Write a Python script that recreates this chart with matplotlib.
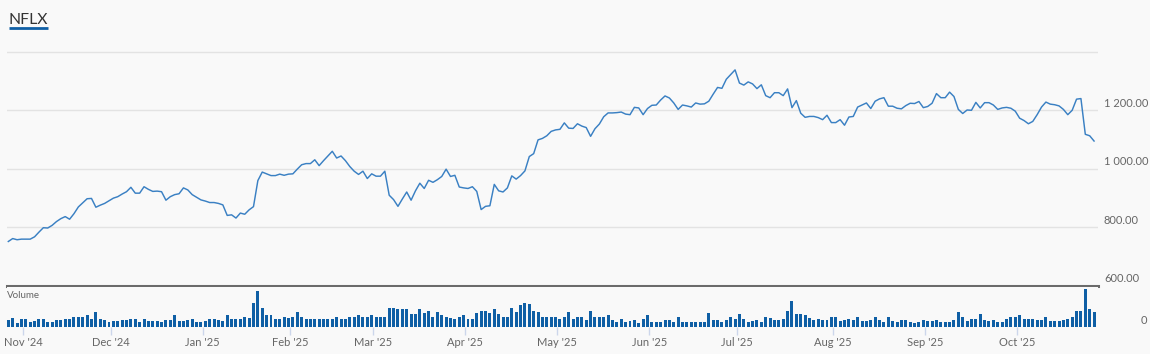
import matplotlib
matplotlib.use("Agg")
import matplotlib.pyplot as plt

plt.rcParams['font.family'] = ['Lato', 'DejaVu Sans']

ticker = "NFLX"

# closing price, one value per trading day (Oct 28 '24 .. Oct 24 '25)
price = [
    752, 762, 758, 760, 760, 760, 768, 784, 799, 798,
    807, 820, 830, 837, 828, 847, 870, 884, 898, 899,
    869, 876, 882, 891, 900, 905, 914, 922, 937, 917,
    917, 939, 930, 923, 924, 922, 893, 905, 912, 915,
    935, 928, 912, 903, 894, 890, 885, 885, 882, 877,
    841, 843, 832, 849, 845, 860, 871, 960, 989, 983,
    977, 977, 982, 978, 982, 983, 999, 1014, 1018, 1018,
    1031, 1011, 1028, 1044, 1060, 1037, 1044, 1028, 1008, 992,
    981, 992, 967, 983, 975, 975, 992, 910, 895, 872,
    897, 921, 893, 925, 951, 933, 961, 954, 963, 974,
    999, 974, 978, 938, 935, 933, 939, 923, 861, 872,
    874, 947, 925, 921, 935, 976, 965, 977, 993, 1042,
    1052, 1099, 1104, 1113, 1128, 1133, 1135, 1157, 1139, 1138,
    1154, 1146, 1141, 1111, 1137, 1153, 1178, 1191, 1191, 1192,
    1194, 1187, 1185, 1210, 1208, 1185, 1206, 1217, 1218, 1235,
    1249, 1242, 1225, 1203, 1218, 1215, 1211, 1225, 1221, 1222,
    1231, 1255, 1278, 1275, 1306, 1322, 1338, 1293, 1286, 1297,
    1290, 1274, 1287, 1250, 1243, 1260, 1260, 1250, 1273, 1209,
    1233, 1190, 1176, 1179, 1179, 1175, 1168, 1183, 1158, 1158,
    1168, 1149, 1177, 1179, 1211, 1218, 1225, 1206, 1231, 1239,
    1243, 1214, 1214, 1207, 1205, 1216, 1224, 1223, 1230, 1209,
    1213, 1224, 1257, 1243, 1243, 1262, 1247, 1203, 1189, 1201,
    1200, 1227, 1208, 1226, 1226, 1218, 1203, 1208, 1210, 1207,
    1197, 1173, 1165, 1154, 1162, 1185, 1211, 1228, 1221, 1219,
    1215, 1203, 1185, 1200, 1238, 1240, 1118, 1113, 1095,
]

# daily volume, millions of shares
volume = [
    2.4, 3.2, 1.4, 2.8, 2.8, 1.8, 2.2, 3.0, 2.8, 1.8,
    2.0, 2.4, 2.4, 2.8, 3.1, 3.5, 3.5, 3.5, 4.2, 2.8,
    5.3, 3.0, 2.5, 1.9, 2.2, 2.2, 2.4, 2.4, 2.8, 3.0,
    1.8, 3.0, 2.2, 2.2, 2.3, 1.9, 2.6, 2.4, 4.2, 2.2,
    2.2, 2.4, 2.8, 2.0, 1.8, 2.2, 2.8, 3.1, 2.4, 2.2,
    4.2, 2.8, 2.8, 2.8, 3.5, 3.2, 8.9, 13.2, 7.1, 4.2,
    4.2, 3.0, 2.8, 3.5, 3.2, 3.5, 5.3, 3.5, 2.8, 2.8,
    2.8, 3.1, 3.1, 3.1, 3.1, 3.8, 2.8, 2.8, 3.5, 3.8,
    4.2, 3.5, 3.8, 4.2, 3.5, 3.8, 3.6, 7.1, 7.1, 6.4,
    6.6, 6.4, 4.7, 4.7, 6.7, 5.0, 6.0, 3.8, 5.3, 4.4,
    3.5, 3.2, 2.8, 3.8, 4.2, 3.0, 2.8, 5.2, 6.0, 6.0,
    5.0, 6.7, 4.6, 3.5, 3.5, 7.1, 5.6, 8.2, 8.9, 8.5,
    6.0, 5.6, 3.5, 3.5, 3.5, 3.8, 3.1, 3.5, 5.3, 2.8,
    3.8, 3.8, 2.4, 6.0, 3.5, 3.5, 3.8, 4.2, 2.4, 1.8,
    2.8, 1.8, 2.2, 2.4, 1.4, 2.8, 4.2, 2.0, 2.0, 2.0,
    2.4, 2.4, 2.0, 3.8, 1.8, 2.0, 2.0, 1.8, 1.8, 2.0,
    5.0, 2.4, 2.4, 2.0, 2.4, 3.5, 2.8, 4.6, 2.8, 1.8,
    2.2, 2.4, 1.8, 3.6, 3.4, 2.4, 2.4, 2.9, 6.0, 9.6,
    4.8, 4.6, 4.2, 3.4, 2.6, 3.0, 2.4, 2.4, 3.5, 3.5,
    2.2, 2.6, 2.9, 2.4, 3.5, 2.2, 2.2, 2.6, 3.5, 2.4,
    1.8, 3.5, 2.2, 1.8, 2.6, 2.4, 1.8, 1.6, 1.8, 2.4,
    2.2, 2.2, 2.6, 2.0, 1.8, 2.0, 2.4, 5.3, 3.5, 2.2,
    2.9, 2.9, 4.7, 2.4, 2.2, 2.4, 1.8, 1.8, 2.8, 3.5,
    3.8, 4.2, 2.9, 2.9, 2.9, 2.6, 2.4, 3.8, 2.2, 2.2,
    2.2, 2.6, 2.9, 3.5, 6.0, 6.0, 13.7, 6.4, 5.3,
]

# first trading day of each month (index into the series) and its label
month_idx = [4, 24, 45, 65, 84, 105, 126, 147, 167, 189, 210, 231]
month_lbl = ["Nov '24", "Dec '24", "Jan '25", "Feb '25", "Mar '25", "Apr '25",
             "May '25", "Jun '25", "Jul '25", "Aug '25", "Sep '25", "Oct '25"]

price_ticks = [600, 800, 1000, 1200]
price_grid = [800, 1000, 1200, 1400]

bg = '#f9f9f9'
line_col = '#3a80c3'
bar_col = '#0f5fa5'
txt_col = '#666666'

x = list(range(len(price)))

fig = plt.figure(figsize=(11.5, 3.54), dpi=100, facecolor=bg)
ax = fig.add_axes([7 / 1150, 1 - 286 / 354, 1091 / 1150, 246 / 354], facecolor=bg)
axv = fig.add_axes([7 / 1150, 1 - 327 / 354, 1091 / 1150, 40 / 354], facecolor=bg, sharex=ax)

# price panel
ax.plot(x, price, color=line_col, lw=1.05)
ax.set_ylim(600, 1440)
ax.set_xlim(-0.3, 248.9)
ax.set_yticks(price_grid)
ax.grid(axis='y', color='#e3e3e3', lw=1)
ax.tick_params(left=False, right=False, bottom=False, labelleft=False, labelbottom=False)
for s in ax.spines.values():
    s.set_visible(False)
ax.axhline(600, color='#6b6b6b', lw=2.2, clip_on=False, zorder=5)
for v in price_ticks:
    lbl = f"{v:,.2f}".replace(",", " ")
    ax.annotate(lbl, xy=(1, v), xycoords=('axes fraction', 'data'),
                xytext=(6, 7), textcoords='offset pixels',
                ha='left', va='center', fontsize=8, color=txt_col, annotation_clip=False)

# volume panel
axv.bar(x, volume, width=0.68, color=bar_col, linewidth=0)
axv.set_ylim(0, 14.6)
axv.set_yticks([])
for s in axv.spines.values():
    s.set_visible(False)
axv.set_xticks([m - 0.6 for m in month_idx])
axv.set_xticklabels(month_lbl)
axv.tick_params(axis='x', length=6, width=1, color='#ccd6eb', pad=1,
                labelsize=8, labelcolor=txt_col)
axv.text(0.0, 0.8, "Volume", transform=axv.transAxes, fontsize=7,
         color=txt_col, ha='left', va='center')
axv.annotate("0", xy=(1, 0), xycoords='axes fraction', xytext=(49, 7),
             textcoords='offset pixels', ha='right', va='center',
             fontsize=8, color=txt_col, annotation_clip=False)

# title with underline
fig.text(9 / 1150, 1 - 24 / 354, ticker, fontsize=11.3, color='#333333',
         ha='left', va='baseline')
fig.add_artist(plt.Line2D([9 / 1150, 48 / 1150], [1 - 28 / 354, 1 - 28 / 354],
                          color=bar_col, lw=2, solid_capstyle='butt',
                          transform=fig.transFigure))

fig.savefig("out.png", dpi=100, facecolor=bg)
